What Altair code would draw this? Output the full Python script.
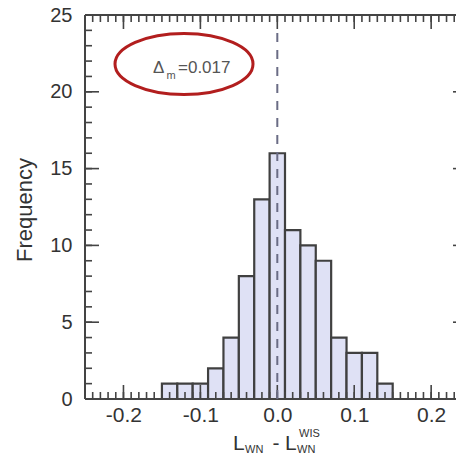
import altair as alt
import pandas as pd
import numpy as np

# ---- data ----
bin_centers = [-0.14, -0.12, -0.10, -0.08, -0.06, -0.04, -0.02, 0.00,
               0.02, 0.04, 0.06, 0.08, 0.10, 0.12, 0.14]
counts = [1, 1, 1, 2, 4, 8, 13, 16, 11, 10, 9, 4, 3, 3, 1]
bin_width = 0.02
x_major = [-0.2, -0.1, 0.0, 0.1, 0.2]
y_major = [0, 5, 10, 15, 20, 25]
ref_line = [0.0]
delta_label = ["Δ", "m", "=0.017"]
x_title_parts = ["L", "WN", "-", "L", "WIS", "WN"]
y_title = "Frequency"

W, H = 371, 384
XDOM = [-0.25, 0.2323]
YDOM = [0, 25]
FONT = "Liberation Sans"

xs = alt.Scale(domain=XDOM, nice=False, zero=False)
ys = alt.Scale(domain=YDOM, nice=False)

bars_df = pd.DataFrame({
    "x0": [c - bin_width / 2 for c in bin_centers],
    "x1": [c + bin_width / 2 for c in bin_centers],
    "n": counts,
})

label_expr = ("datum.value < 0 ? '-' + format(-datum.value, '.1f') : "
              "format(datum.value, '.1f')")

bars = alt.Chart(bars_df).mark_bar(
    fill="#dfe1f5", stroke="#404040", strokeWidth=2.2
).encode(
    x=alt.X("x0:Q", scale=xs, axis=alt.Axis(
        values=x_major, labelExpr=label_expr, ticks=False, domain=False,
        grid=False, title=None, labelFontSize=21, labelColor="#333333",
        labelFont=FONT, labelPadding=5, labelFlush=False)),
    x2="x1:Q",
    y=alt.Y("n:Q", scale=ys, axis=alt.Axis(
        values=y_major, ticks=False, domain=False, grid=False, title=None,
        labelFontSize=20, labelColor="#333333", labelFont=FONT,
        labelPadding=13, labelFlush=False)),
    y2=alt.datum(0),
)

# inward tick marks
x_minor = [round(v, 2) for v in np.arange(-0.24, 0.235, 0.01)]
y_minor = list(range(1, 25))
xminor_df = pd.DataFrame({"v": x_minor})
xmajor_df = pd.DataFrame({"v": x_major})
yminor_df = pd.DataFrame({"v": y_minor})
ymajor_df = pd.DataFrame({"v": y_major})

TC = "#444444"
def xticks(df, length, top):
    if top:
        y0, y1 = 0, length
    else:
        y0, y1 = H, H - length
    return alt.Chart(df).mark_rule(color=TC, strokeWidth=1.6).encode(
        x=alt.X("v:Q", scale=xs), y=alt.value(y0), y2=alt.value(y1))

def yticks(df, x0, x1):
    return alt.Chart(df).mark_rule(color=TC, strokeWidth=1.6).encode(
        y=alt.Y("v:Q", scale=ys), x=alt.value(x0), x2=alt.value(x1))

ticks = [
    xticks(xminor_df, 7, False), xticks(xmajor_df, 14, False),
    xticks(xminor_df, 7, True), xticks(xmajor_df, 14, True),
    yticks(yminor_df, 0, 7), yticks(ymajor_df, 0, 14),
    yticks(ymajor_df, W - 3, W),
]

frame_df = pd.DataFrame({"f": [0]})
frame = [
    alt.Chart(frame_df).mark_rule(color=TC, strokeWidth=2).encode(
        x=alt.value(0), y=alt.value(0), y2=alt.value(H)),
    alt.Chart(frame_df).mark_rule(color=TC, strokeWidth=2).encode(
        x=alt.value(0), x2=alt.value(W), y=alt.value(0)),
    alt.Chart(frame_df).mark_rule(color=TC, strokeWidth=2).encode(
        x=alt.value(0), x2=alt.value(W), y=alt.value(H)),
]

dash = alt.Chart(pd.DataFrame({"v": ref_line})).mark_rule(
    color="#6a6c85", strokeWidth=2, strokeDash=[9, 8]
).encode(x=alt.X("v:Q", scale=xs), y=alt.value(18), y2=alt.value(H))

def txt(s, x, y, size, color="#333333", align="left", angle=0):
    kw = dict(fontSize=size, font=FONT, color=color, align=align,
              baseline="alphabetic")
    if angle:
        kw["angle"] = angle
    return alt.Chart(pd.DataFrame({"t": [s]})).mark_text(**kw).encode(
        text="t:N", x=alt.value(x), y=alt.value(y))

annot = [
    txt(delta_label[0], 68, 58, 17, "#555555"),
    txt(delta_label[1], 81.5, 64, 11, "#555555"),
    txt(delta_label[2], 93, 58, 17, "#555555"),
]

TY = 435
xt = [
    txt(x_title_parts[0], 148, TY, 21),
    txt(x_title_parts[1], 160, TY + 3, 11),
    txt(x_title_parts[2], 191, TY, 21, align="center"),
    txt(x_title_parts[3], 200, TY, 21),
    txt(x_title_parts[4], 214, TY - 13, 11),
    txt(x_title_parts[5], 212, TY + 3, 11),
]

ytitle = txt(y_title, -53, 195, 22, align="center", angle=270)

ellipse = alt.Chart(pd.DataFrame({"e": [1]})).mark_point(
    shape="M -1 0 A 1 0.442 0 1 1 1 0 A 1 0.442 0 1 1 -1 0 Z",
    size=138 * 138, filled=False, stroke="#b21e1e", strokeWidth=3,
    opacity=1
).encode(x=alt.value(99), y=alt.value(49))

chart = alt.layer(
    bars, *ticks, *frame, dash, *annot, ellipse, *xt, ytitle
).properties(
    width=W, height=H,
    autosize=alt.AutoSizeParams(type="none"),
    padding={"left": 77, "top": 7, "right": 0, "bottom": 57},
).configure_view(
    stroke=None
)

chart.save("out.html", embed_options={"renderer": "svg", "actions": False})
